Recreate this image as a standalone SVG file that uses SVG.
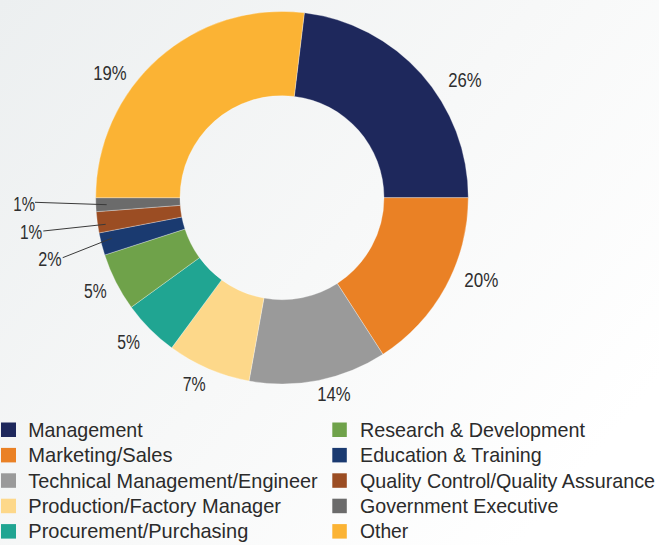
<svg xmlns="http://www.w3.org/2000/svg" width="659" height="545" viewBox="0 0 659 545">
<defs>
<linearGradient id="bg" x1="0" y1="0" x2="1" y2="0.7">
<stop offset="0" stop-color="#eceff0"/>
<stop offset="0.55" stop-color="#f7f8f8"/>
<stop offset="1" stop-color="#ffffff"/>
</linearGradient>
<style>
.s{stroke:#ffffff;stroke-width:0.5;stroke-opacity:0.6}
.lbl{font-family:"Liberation Sans",Arial,sans-serif;font-size:20.5px;fill:#2e2e2e}
.lg{font-family:"Liberation Sans",Arial,sans-serif;font-size:21px;fill:#2b2b2b}
.ld{stroke:#3a3a3a;stroke-width:1;fill:none}
</style>
</defs>
<rect width="659" height="545" fill="url(#bg)"/>
<g id="chart">
<path id="management" class="s" fill="#1e285c" d="M304.37,12.74 A186.3,186.3 0 0 1 468.3,197.7 L384,197.7 A102,102 0 0 0 294.25,96.43 Z"/>
<path id="marketing" class="s" fill="#ea8125" d="M468.3,197.7 A186.3,186.3 0 0 1 382.92,354.3 L337.25,283.44 A102,102 0 0 0 384,197.7 Z"/>
<path id="technical" class="s" fill="#9a9a9a" d="M382.92,354.3 A186.3,186.3 0 0 1 249.01,381.06 L263.94,298.09 A102,102 0 0 0 337.25,283.44 Z"/>
<path id="production" class="s" fill="#fdd88a" d="M249.01,381.06 A186.3,186.3 0 0 1 171.71,347.84 L221.62,279.9 A102,102 0 0 0 263.94,298.09 Z"/>
<path id="procurement" class="s" fill="#20a592" d="M171.71,347.84 A186.3,186.3 0 0 1 131.28,307.21 L199.48,257.66 A102,102 0 0 0 221.62,279.9 Z"/>
<path id="research" class="s" fill="#6fa24a" d="M131.28,307.21 A186.3,186.3 0 0 1 104.72,254.97 L184.94,229.05 A102,102 0 0 0 199.48,257.66 Z"/>
<path id="education" class="s" fill="#1a3a70" d="M104.72,254.97 A186.3,186.3 0 0 1 99.05,232.93 L181.84,216.99 A102,102 0 0 0 184.94,229.05 Z"/>
<path id="quality" class="s" fill="#9b4d23" d="M99.05,232.93 A186.3,186.3 0 0 1 96.22,211.67 L180.29,205.35 A102,102 0 0 0 181.84,216.99 Z"/>
<path id="government" class="s" fill="#6b6b6b" d="M96.22,211.67 A186.3,186.3 0 0 1 95.7,197.7 L180,197.7 A102,102 0 0 0 180.29,205.35 Z"/>
<path id="other" class="s" fill="#fbb334" d="M95.7,197.7 A186.3,186.3 0 0 1 304.37,12.74 L294.25,96.43 A102,102 0 0 0 180,197.7 Z"/>
</g>
<g id="connectors">
<line class="ld" x1="35" y1="202.3" x2="106.7" y2="204.7"/>
<line class="ld" x1="43.3" y1="231" x2="105.7" y2="224.3"/>
<line class="ld" x1="62.7" y1="257.7" x2="111.7" y2="238.3"/>
</g>
<g id="labels">
<text class="lbl" x="448.3" y="87.3" textLength="33.4" lengthAdjust="spacingAndGlyphs">26%</text>
<text class="lbl" x="464.3" y="287.3" textLength="34" lengthAdjust="spacingAndGlyphs">20%</text>
<text class="lbl" x="317.3" y="401" textLength="33.4" lengthAdjust="spacingAndGlyphs">14%</text>
<text class="lbl" x="182.7" y="391" textLength="23" lengthAdjust="spacingAndGlyphs">7%</text>
<text class="lbl" x="117.3" y="349" textLength="22.7" lengthAdjust="spacingAndGlyphs">5%</text>
<text class="lbl" x="84" y="298.3" textLength="22.7" lengthAdjust="spacingAndGlyphs">5%</text>
<text class="lbl" x="38.3" y="265.7" textLength="23.4" lengthAdjust="spacingAndGlyphs">2%</text>
<text class="lbl" x="20" y="239" textLength="22.3" lengthAdjust="spacingAndGlyphs">1%</text>
<text class="lbl" x="13.3" y="210.7" textLength="21.7" lengthAdjust="spacingAndGlyphs">1%</text>
<text class="lbl" x="93.3" y="80" textLength="33.4" lengthAdjust="spacingAndGlyphs">19%</text>
</g>
<g id="legend">
<g id="leg-management"><rect x="1" y="422.5" width="15" height="14.5" fill="#1e285c"/><text class="lg" x="28.3" y="436.7" textLength="114.4" lengthAdjust="spacingAndGlyphs">Management</text></g>
<g id="leg-marketing"><rect x="1" y="447.9" width="15" height="14.5" fill="#ea8125"/><text class="lg" x="28.3" y="462.1" textLength="144.3" lengthAdjust="spacingAndGlyphs">Marketing/Sales</text></g>
<g id="leg-technical"><rect x="1" y="473.3" width="15" height="14.5" fill="#9a9a9a"/><text class="lg" x="28.3" y="487.5" textLength="289.3" lengthAdjust="spacingAndGlyphs">Technical Management/Engineer</text></g>
<g id="leg-production"><rect x="1" y="498.7" width="15" height="14.5" fill="#fdd88a"/><text class="lg" x="28.3" y="512.9" textLength="252.7" lengthAdjust="spacingAndGlyphs">Production/Factory Manager</text></g>
<g id="leg-procurement"><rect x="1" y="524.1" width="15" height="14.5" fill="#20a592"/><text class="lg" x="28.3" y="538.3" textLength="220" lengthAdjust="spacingAndGlyphs">Procurement/Purchasing</text></g>
<g id="leg-research"><rect x="332.3" y="422.5" width="14.5" height="14.5" fill="#6fa24a"/><text class="lg" x="360" y="436.7" textLength="225" lengthAdjust="spacingAndGlyphs">Research &amp; Development</text></g>
<g id="leg-education"><rect x="332.3" y="447.9" width="14.5" height="14.5" fill="#1a3a70"/><text class="lg" x="360" y="462.1" textLength="181.7" lengthAdjust="spacingAndGlyphs">Education &amp; Training</text></g>
<g id="leg-quality"><rect x="332.3" y="473.3" width="14.5" height="14.5" fill="#9b4d23"/><text class="lg" x="360" y="487.5" textLength="295" lengthAdjust="spacingAndGlyphs">Quality Control/Quality Assurance</text></g>
<g id="leg-government"><rect x="332.3" y="498.7" width="14.5" height="14.5" fill="#6b6b6b"/><text class="lg" x="360" y="512.9" textLength="198.3" lengthAdjust="spacingAndGlyphs">Government Executive</text></g>
<g id="leg-other"><rect x="332.3" y="524.1" width="14.5" height="14.5" fill="#fbb334"/><text class="lg" x="360" y="538.3" textLength="48.3" lengthAdjust="spacingAndGlyphs">Other</text></g>
</g>
</svg>
